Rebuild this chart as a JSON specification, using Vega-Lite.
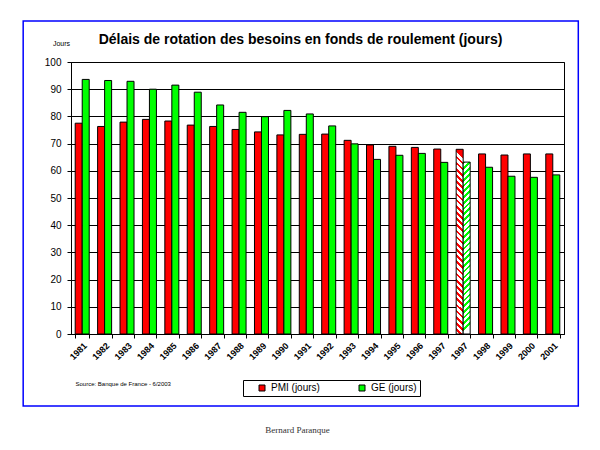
{
  "$schema": "https://vega.github.io/schema/vega-lite/v6.json",
  "width": 493,
  "height": 272,
  "autosize": {"type": "none"},
  "padding": {"left": 71, "top": 62, "right": 36, "bottom": 116},
  "background": "white",
  "title": {
    "text": "Délais de rotation des besoins en fonds de roulement (jours)",
    "anchor": "middle",
    "frame": "group",
    "font": "Liberation Sans",
    "fontSize": 14,
    "fontWeight": "bold",
    "color": "black",
    "offset": -27,
    "dx": -17
  },
  "config": {
    "font": "Liberation Sans",
    "view": {"stroke": "black", "strokeWidth": 1}
  },
  "layer": [
    {
      "data": {"values": [{}]},
      "mark": {"type": "rect", "filled": false, "stroke": "#0000ff", "strokeWidth": 1.5},
      "encoding": {
        "x": {
          "datum": -0.097,
          "type": "quantitative",
          "scale": {"domain": [0, 1], "nice": false, "zero": false},
          "axis": {
            "orient": "top",
            "domain": false,
            "ticks": false,
            "labels": false,
            "grid": false,
            "title": "Bernard Paranque",
            "titleFont": "Liberation Serif",
            "titleFontSize": 9,
            "titleFontWeight": "normal",
            "titleColor": "#333333",
            "titleX": 226,
            "titleY": 367,
            "titleAlign": "center",
            "titleAnchor": null,
            "titleBaseline": "middle"
          }
        },
        "x2": {"datum": 1.029},
        "y": {
          "datum": 115.1,
          "type": "quantitative",
          "scale": {"domain": [0, 100], "nice": false},
          "axis": null
        },
        "y2": {"datum": -26.5}
      }
    },
    {
      "data": {
        "values": [
          {"annee": "1981", "serie": "PMI (jours)", "valeur": 77.5},
          {"annee": "1981", "serie": "GE (jours)", "valeur": 93.6},
          {"annee": "1982", "serie": "PMI (jours)", "valeur": 76.3},
          {"annee": "1982", "serie": "GE (jours)", "valeur": 93.2},
          {"annee": "1983", "serie": "PMI (jours)", "valeur": 77.9},
          {"annee": "1983", "serie": "GE (jours)", "valeur": 92.9},
          {"annee": "1984", "serie": "PMI (jours)", "valeur": 78.9},
          {"annee": "1984", "serie": "GE (jours)", "valeur": 90.0},
          {"annee": "1985", "serie": "PMI (jours)", "valeur": 78.3},
          {"annee": "1985", "serie": "GE (jours)", "valeur": 91.5},
          {"annee": "1986", "serie": "PMI (jours)", "valeur": 76.8},
          {"annee": "1986", "serie": "GE (jours)", "valeur": 88.9},
          {"annee": "1987", "serie": "PMI (jours)", "valeur": 76.3},
          {"annee": "1987", "serie": "GE (jours)", "valeur": 84.2},
          {"annee": "1988", "serie": "PMI (jours)", "valeur": 75.2},
          {"annee": "1988", "serie": "GE (jours)", "valeur": 81.5},
          {"annee": "1989", "serie": "PMI (jours)", "valeur": 74.3},
          {"annee": "1989", "serie": "GE (jours)", "valeur": 79.9},
          {"annee": "1990", "serie": "PMI (jours)", "valeur": 73.2},
          {"annee": "1990", "serie": "GE (jours)", "valeur": 82.2},
          {"annee": "1991", "serie": "PMI (jours)", "valeur": 73.4},
          {"annee": "1991", "serie": "GE (jours)", "valeur": 80.9},
          {"annee": "1992", "serie": "PMI (jours)", "valeur": 73.5},
          {"annee": "1992", "serie": "GE (jours)", "valeur": 76.5},
          {"annee": "1993", "serie": "PMI (jours)", "valeur": 71.2},
          {"annee": "1993", "serie": "GE (jours)", "valeur": 69.9},
          {"annee": "1994", "serie": "PMI (jours)", "valeur": 69.5},
          {"annee": "1994", "serie": "GE (jours)", "valeur": 64.2},
          {"annee": "1995", "serie": "PMI (jours)", "valeur": 69.0},
          {"annee": "1995", "serie": "GE (jours)", "valeur": 65.7},
          {"annee": "1996", "serie": "PMI (jours)", "valeur": 68.6},
          {"annee": "1996", "serie": "GE (jours)", "valeur": 66.4},
          {"annee": "1997", "serie": "PMI (jours)", "valeur": 68.0},
          {"annee": "1997", "serie": "GE (jours)", "valeur": 63.1},
          {"annee": "1997 ", "serie": "PMI (jours)", "valeur": 67.9},
          {"annee": "1997 ", "serie": "GE (jours)", "valeur": 63.2},
          {"annee": "1998", "serie": "PMI (jours)", "valeur": 66.2},
          {"annee": "1998", "serie": "GE (jours)", "valeur": 61.3},
          {"annee": "1999", "serie": "PMI (jours)", "valeur": 65.8},
          {"annee": "1999", "serie": "GE (jours)", "valeur": 58.0},
          {"annee": "2000", "serie": "PMI (jours)", "valeur": 66.2},
          {"annee": "2000", "serie": "GE (jours)", "valeur": 57.6},
          {"annee": "2001", "serie": "PMI (jours)", "valeur": 66.2},
          {"annee": "2001", "serie": "GE (jours)", "valeur": 58.5}
        ]
      },
      "mark": {"type": "bar", "stroke": "black", "strokeWidth": 1},
      "encoding": {
        "x": {
          "field": "annee",
          "type": "nominal",
          "sort": null,
          "scale": {"paddingInner": 0.375, "paddingOuter": 0.1875},
          "axis": {
            "orient": "bottom",
            "title": "Source: Banque de France - 6/2003",
            "titleFontSize": 6,
            "titleFontWeight": "normal",
            "titleColor": "black",
            "titleX": 4,
            "titleY": 49,
            "titleAlign": "left",
            "titleAnchor": null,
            "titleBaseline": "middle",
            "labelAngle": -45,
            "labelFont": "Liberation Sans",
            "labelFontSize": 9,
            "labelFontWeight": "bold",
            "labelColor": "black",
            "labelPadding": 3,
            "tickBand": "extent",
            "tickColor": "black",
            "tickSize": 4,
            "domainColor": "black",
            "grid": false
          }
        },
        "xOffset": {
          "field": "serie",
          "type": "nominal",
          "sort": ["PMI (jours)", "GE (jours)"],
          "scale": {"paddingInner": 0, "paddingOuter": 0}
        },
        "y": {
          "field": "valeur",
          "type": "quantitative",
          "scale": {"domain": [0, 100], "nice": false},
          "axis": {
            "orient": "left",
            "values": [0, 10, 20, 30, 40, 50, 60, 70, 80, 90, 100],
            "grid": true,
            "gridColor": "black",
            "gridOpacity": 1,
            "gridWidth": 1,
            "domainColor": "black",
            "tickColor": "black",
            "tickSize": 4,
            "labelFontSize": 10,
            "labelColor": "black",
            "labelPadding": 6,
            "title": "Jours",
            "titleAngle": 0,
            "titleFontSize": 7,
            "titleFontWeight": "normal",
            "titleColor": "black",
            "titleX": -10,
            "titleY": -19,
            "titleAlign": "center",
            "titleAnchor": null,
            "titleBaseline": "middle"
          }
        },
        "fill": {
          "condition": [
            {
              "test": "datum.annee === '1997 ' && datum.serie === 'PMI (jours)'",
              "value": {
                "gradient": "linear", "x1": 0.0378, "y1": 0, "x2": 0, "y2": 1,
                "stops": [
                  {"offset":0,"color":"red"},{"offset":0.015,"color":"red"},{"offset":0.015,"color":"white"},{"offset":0.0333,"color":"white"},
                  {"offset":0.0333,"color":"red"},{"offset":0.0483,"color":"red"},{"offset":0.0483,"color":"white"},{"offset":0.0667,"color":"white"},
                  {"offset":0.0667,"color":"red"},{"offset":0.0817,"color":"red"},{"offset":0.0817,"color":"white"},{"offset":0.1,"color":"white"},
                  {"offset":0.1,"color":"red"},{"offset":0.115,"color":"red"},{"offset":0.115,"color":"white"},{"offset":0.1333,"color":"white"},
                  {"offset":0.1333,"color":"red"},{"offset":0.1483,"color":"red"},{"offset":0.1483,"color":"white"},{"offset":0.1667,"color":"white"},
                  {"offset":0.1667,"color":"red"},{"offset":0.1817,"color":"red"},{"offset":0.1817,"color":"white"},{"offset":0.2,"color":"white"},
                  {"offset":0.2,"color":"red"},{"offset":0.215,"color":"red"},{"offset":0.215,"color":"white"},{"offset":0.2333,"color":"white"},
                  {"offset":0.2333,"color":"red"},{"offset":0.2483,"color":"red"},{"offset":0.2483,"color":"white"},{"offset":0.2667,"color":"white"},
                  {"offset":0.2667,"color":"red"},{"offset":0.2817,"color":"red"},{"offset":0.2817,"color":"white"},{"offset":0.3,"color":"white"},
                  {"offset":0.3,"color":"red"},{"offset":0.315,"color":"red"},{"offset":0.315,"color":"white"},{"offset":0.3333,"color":"white"},
                  {"offset":0.3333,"color":"red"},{"offset":0.3483,"color":"red"},{"offset":0.3483,"color":"white"},{"offset":0.3667,"color":"white"},
                  {"offset":0.3667,"color":"red"},{"offset":0.3817,"color":"red"},{"offset":0.3817,"color":"white"},{"offset":0.4,"color":"white"},
                  {"offset":0.4,"color":"red"},{"offset":0.415,"color":"red"},{"offset":0.415,"color":"white"},{"offset":0.4333,"color":"white"},
                  {"offset":0.4333,"color":"red"},{"offset":0.4483,"color":"red"},{"offset":0.4483,"color":"white"},{"offset":0.4667,"color":"white"},
                  {"offset":0.4667,"color":"red"},{"offset":0.4817,"color":"red"},{"offset":0.4817,"color":"white"},{"offset":0.5,"color":"white"},
                  {"offset":0.5,"color":"red"},{"offset":0.515,"color":"red"},{"offset":0.515,"color":"white"},{"offset":0.5333,"color":"white"},
                  {"offset":0.5333,"color":"red"},{"offset":0.5483,"color":"red"},{"offset":0.5483,"color":"white"},{"offset":0.5667,"color":"white"},
                  {"offset":0.5667,"color":"red"},{"offset":0.5817,"color":"red"},{"offset":0.5817,"color":"white"},{"offset":0.6,"color":"white"},
                  {"offset":0.6,"color":"red"},{"offset":0.615,"color":"red"},{"offset":0.615,"color":"white"},{"offset":0.6333,"color":"white"},
                  {"offset":0.6333,"color":"red"},{"offset":0.6483,"color":"red"},{"offset":0.6483,"color":"white"},{"offset":0.6667,"color":"white"},
                  {"offset":0.6667,"color":"red"},{"offset":0.6817,"color":"red"},{"offset":0.6817,"color":"white"},{"offset":0.7,"color":"white"},
                  {"offset":0.7,"color":"red"},{"offset":0.715,"color":"red"},{"offset":0.715,"color":"white"},{"offset":0.7333,"color":"white"},
                  {"offset":0.7333,"color":"red"},{"offset":0.7483,"color":"red"},{"offset":0.7483,"color":"white"},{"offset":0.7667,"color":"white"},
                  {"offset":0.7667,"color":"red"},{"offset":0.7817,"color":"red"},{"offset":0.7817,"color":"white"},{"offset":0.8,"color":"white"},
                  {"offset":0.8,"color":"red"},{"offset":0.815,"color":"red"},{"offset":0.815,"color":"white"},{"offset":0.8333,"color":"white"},
                  {"offset":0.8333,"color":"red"},{"offset":0.8483,"color":"red"},{"offset":0.8483,"color":"white"},{"offset":0.8667,"color":"white"},
                  {"offset":0.8667,"color":"red"},{"offset":0.8817,"color":"red"},{"offset":0.8817,"color":"white"},{"offset":0.9,"color":"white"},
                  {"offset":0.9,"color":"red"},{"offset":0.915,"color":"red"},{"offset":0.915,"color":"white"},{"offset":0.9333,"color":"white"},
                  {"offset":0.9333,"color":"red"},{"offset":0.9483,"color":"red"},{"offset":0.9483,"color":"white"},{"offset":0.9667,"color":"white"},
                  {"offset":0.9667,"color":"red"},{"offset":0.9817,"color":"red"},{"offset":0.9817,"color":"white"},{"offset":1,"color":"white"}
                ]
              }
            },
            {
              "test": "datum.annee === '1997 ' && datum.serie === 'GE (jours)'",
              "value": {
                "gradient": "linear", "x1": 0, "y1": 0, "x2": 0.0407, "y2": 1,
                "stops": [
                  {"offset":0,"color":"lime"},{"offset":0.015,"color":"lime"},{"offset":0.015,"color":"white"},{"offset":0.0333,"color":"white"},
                  {"offset":0.0333,"color":"lime"},{"offset":0.0483,"color":"lime"},{"offset":0.0483,"color":"white"},{"offset":0.0667,"color":"white"},
                  {"offset":0.0667,"color":"lime"},{"offset":0.0817,"color":"lime"},{"offset":0.0817,"color":"white"},{"offset":0.1,"color":"white"},
                  {"offset":0.1,"color":"lime"},{"offset":0.115,"color":"lime"},{"offset":0.115,"color":"white"},{"offset":0.1333,"color":"white"},
                  {"offset":0.1333,"color":"lime"},{"offset":0.1483,"color":"lime"},{"offset":0.1483,"color":"white"},{"offset":0.1667,"color":"white"},
                  {"offset":0.1667,"color":"lime"},{"offset":0.1817,"color":"lime"},{"offset":0.1817,"color":"white"},{"offset":0.2,"color":"white"},
                  {"offset":0.2,"color":"lime"},{"offset":0.215,"color":"lime"},{"offset":0.215,"color":"white"},{"offset":0.2333,"color":"white"},
                  {"offset":0.2333,"color":"lime"},{"offset":0.2483,"color":"lime"},{"offset":0.2483,"color":"white"},{"offset":0.2667,"color":"white"},
                  {"offset":0.2667,"color":"lime"},{"offset":0.2817,"color":"lime"},{"offset":0.2817,"color":"white"},{"offset":0.3,"color":"white"},
                  {"offset":0.3,"color":"lime"},{"offset":0.315,"color":"lime"},{"offset":0.315,"color":"white"},{"offset":0.3333,"color":"white"},
                  {"offset":0.3333,"color":"lime"},{"offset":0.3483,"color":"lime"},{"offset":0.3483,"color":"white"},{"offset":0.3667,"color":"white"},
                  {"offset":0.3667,"color":"lime"},{"offset":0.3817,"color":"lime"},{"offset":0.3817,"color":"white"},{"offset":0.4,"color":"white"},
                  {"offset":0.4,"color":"lime"},{"offset":0.415,"color":"lime"},{"offset":0.415,"color":"white"},{"offset":0.4333,"color":"white"},
                  {"offset":0.4333,"color":"lime"},{"offset":0.4483,"color":"lime"},{"offset":0.4483,"color":"white"},{"offset":0.4667,"color":"white"},
                  {"offset":0.4667,"color":"lime"},{"offset":0.4817,"color":"lime"},{"offset":0.4817,"color":"white"},{"offset":0.5,"color":"white"},
                  {"offset":0.5,"color":"lime"},{"offset":0.515,"color":"lime"},{"offset":0.515,"color":"white"},{"offset":0.5333,"color":"white"},
                  {"offset":0.5333,"color":"lime"},{"offset":0.5483,"color":"lime"},{"offset":0.5483,"color":"white"},{"offset":0.5667,"color":"white"},
                  {"offset":0.5667,"color":"lime"},{"offset":0.5817,"color":"lime"},{"offset":0.5817,"color":"white"},{"offset":0.6,"color":"white"},
                  {"offset":0.6,"color":"lime"},{"offset":0.615,"color":"lime"},{"offset":0.615,"color":"white"},{"offset":0.6333,"color":"white"},
                  {"offset":0.6333,"color":"lime"},{"offset":0.6483,"color":"lime"},{"offset":0.6483,"color":"white"},{"offset":0.6667,"color":"white"},
                  {"offset":0.6667,"color":"lime"},{"offset":0.6817,"color":"lime"},{"offset":0.6817,"color":"white"},{"offset":0.7,"color":"white"},
                  {"offset":0.7,"color":"lime"},{"offset":0.715,"color":"lime"},{"offset":0.715,"color":"white"},{"offset":0.7333,"color":"white"},
                  {"offset":0.7333,"color":"lime"},{"offset":0.7483,"color":"lime"},{"offset":0.7483,"color":"white"},{"offset":0.7667,"color":"white"},
                  {"offset":0.7667,"color":"lime"},{"offset":0.7817,"color":"lime"},{"offset":0.7817,"color":"white"},{"offset":0.8,"color":"white"},
                  {"offset":0.8,"color":"lime"},{"offset":0.815,"color":"lime"},{"offset":0.815,"color":"white"},{"offset":0.8333,"color":"white"},
                  {"offset":0.8333,"color":"lime"},{"offset":0.8483,"color":"lime"},{"offset":0.8483,"color":"white"},{"offset":0.8667,"color":"white"},
                  {"offset":0.8667,"color":"lime"},{"offset":0.8817,"color":"lime"},{"offset":0.8817,"color":"white"},{"offset":0.9,"color":"white"},
                  {"offset":0.9,"color":"lime"},{"offset":0.915,"color":"lime"},{"offset":0.915,"color":"white"},{"offset":0.9333,"color":"white"},
                  {"offset":0.9333,"color":"lime"},{"offset":0.9483,"color":"lime"},{"offset":0.9483,"color":"white"},{"offset":0.9667,"color":"white"},
                  {"offset":0.9667,"color":"lime"},{"offset":0.9817,"color":"lime"},{"offset":0.9817,"color":"white"},{"offset":1,"color":"white"}
                ]
              }
            }
          ],
          "field": "serie",
          "type": "nominal",
          "scale": {"domain": ["PMI (jours)", "GE (jours)"], "range": ["#ff0000", "#00ff00"]},
          "legend": {
            "orient": "none",
            "legendX": 172,
            "legendY": 318,
            "direction": "horizontal",
            "title": null,
            "symbolType": "square",
            "symbolSize": 36,
            "symbolStrokeColor": "black",
            "symbolStrokeWidth": 1,
            "symbolOffset": 11,
            "labelFont": "Liberation Sans",
            "labelFontSize": 10,
            "labelColor": "black",
            "labelOffset": 4,
            "columnPadding": 26,
            "strokeColor": "black",
            "fillColor": "white",
            "padding": 3
          }
        }
      }
    }
  ],
  "resolve": {"scale": {"x": "independent", "y": "independent"}}
}
